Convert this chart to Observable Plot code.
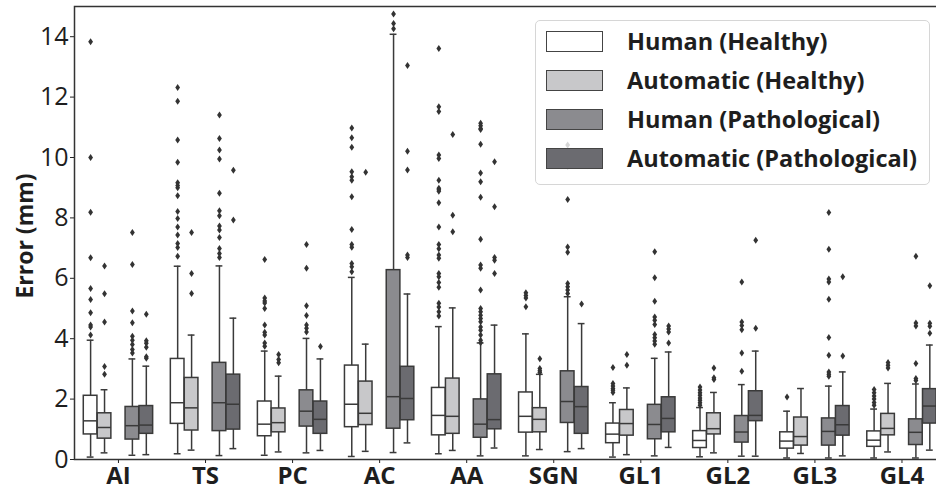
<!DOCTYPE html>
<html>
<head>
<meta charset="utf-8">
<script src="https://cdn.jsdelivr.net/npm/d3@7"></script>
<script src="https://cdn.jsdelivr.net/npm/@observablehq/plot@0.6"></script>
<style>
  html, body { margin: 0; padding: 0; background: #fff; overflow: hidden; }
  #wrap { position: relative; width: 946px; height: 491px; font-family: "Open Sans", sans-serif; }
  #ylabel { position: absolute; left: 24px; top: 236px; transform: translate(-50%, -50%) rotate(-90deg);
    font-size: 23px; font-weight: bold; color: #1e1e1e; white-space: nowrap; }
  #legend { position: absolute; left: 535px; top: 20px; width: 395px; height: 165px;
    background: rgba(255,255,255,0.8); border: 1px solid #d6d6d6; border-radius: 5px; box-sizing: border-box; }
  .row { position: absolute; left: 10px; height: 21px; }
  .sw { position: absolute; left: 0; top: 0; width: 57px; height: 21px; border: 1px solid #444; box-sizing: border-box; }
  .lt { position: absolute; left: 81px; top: 50%; transform: translateY(-52%); font-size: 23.5px; font-weight: bold; color: #1e1e1e; white-space: nowrap; }
</style>
</head>
<body>
<div id="wrap"></div>
<script>
const categories = ["AI", "TS", "PC", "AC", "AA", "SGN", "GL1", "GL2", "GL3", "GL4"];
const seriesNames = ["Human (Healthy)", "Automatic (Healthy)", "Human (Pathological)", "Automatic (Pathological)"];
const seriesFill = ["#ffffff", "#c8c8ca", "#8b8b8f", "#6b6b70"];
const yTicks = [0, 2, 4, 6, 8, 10, 12, 14];

// per category: [lower whisker, Q1, median, Q3, upper whisker]
const humanHealthy = [
  [0.08, 0.83, 1.28, 2.11, 3.95],
  [0.19, 1.18, 1.88, 3.33, 6.40],
  [0.14, 0.77, 1.17, 1.92, 3.59],
  [0.10, 1.07, 1.83, 3.11, 6.03],
  [0.19, 0.80, 1.46, 2.37, 4.40],
  [0.12, 0.89, 1.43, 2.22, 4.16],
  [0.08, 0.54, 0.84, 1.19, 1.88],
  [0.09, 0.38, 0.63, 0.94, 1.72],
  [0.05, 0.36, 0.61, 0.90, 1.60],
  [0.05, 0.42, 0.64, 0.93, 1.67]
];
const automaticHealthy = [
  [0.22, 0.69, 1.06, 1.53, 2.31],
  [0.31, 0.96, 1.71, 2.70, 4.12],
  [0.25, 0.90, 1.22, 1.69, 2.76],
  [0.27, 1.14, 1.53, 2.58, 3.82],
  [0.30, 0.85, 1.43, 2.68, 5.02],
  [0.33, 0.90, 1.33, 1.70, 2.82],
  [0.16, 0.79, 1.19, 1.64, 2.37],
  [0.22, 0.83, 1.02, 1.53, 2.22],
  [0.20, 0.46, 0.76, 1.39, 2.35],
  [0.25, 0.80, 1.03, 1.51, 2.52]
];
const humanPathological = [
  [0.14, 0.66, 1.12, 1.74, 3.33],
  [0.13, 0.94, 1.88, 3.20, 6.41],
  [0.22, 1.09, 1.60, 2.29, 4.01],
  [0.23, 1.02, 2.08, 6.27, 14.08],
  [0.12, 0.72, 1.17, 1.99, 3.86],
  [0.26, 1.21, 1.92, 2.92, 5.39],
  [0.12, 0.67, 1.16, 1.81, 3.35],
  [0.11, 0.56, 0.91, 1.44, 2.48],
  [0.05, 0.46, 0.93, 1.36, 2.43],
  [0.05, 0.48, 0.90, 1.33, 2.50]
];
const automaticPathological = [
  [0.16, 0.85, 1.14, 1.77, 3.09],
  [0.36, 0.99, 1.83, 2.81, 4.68],
  [0.30, 0.85, 1.33, 1.92, 3.33],
  [0.55, 1.30, 2.02, 3.07, 5.48],
  [0.38, 1.00, 1.32, 2.82, 4.45],
  [0.36, 0.85, 1.75, 2.40, 4.50],
  [0.40, 0.90, 1.36, 2.06, 3.56],
  [0.11, 1.27, 1.46, 2.26, 3.59],
  [0.12, 0.79, 1.15, 1.77, 2.90],
  [0.31, 1.19, 1.77, 2.33, 3.79]
];

// outliers per category
const humanHealthyOut = [
  [13.83, 10.0, 8.19, 6.68, 5.66, 5.30, 4.86, 4.45, 4.39, 4.12],
  [12.32, 11.86, 10.58, 9.84, 9.16, 9.07, 9.0, 8.73, 8.21, 7.98, 7.70, 7.43, 7.15, 7.02, 6.73],
  [6.62, 5.35, 5.25, 5.18, 5.0, 4.45, 4.21, 4.12, 3.86, 3.75],
  [10.98, 10.65, 10.34, 9.53, 9.36, 9.25, 8.70, 7.62, 7.12, 7.03, 6.49, 6.38, 6.22],
  [13.61, 11.68, 11.52, 10.08, 9.97, 9.25, 8.98, 8.93, 8.88, 8.50, 7.70, 7.12, 6.98, 6.77, 6.66, 6.16, 6.05, 5.86, 5.70, 5.17, 5.05, 4.89, 4.75],
  [5.52, 5.43, 5.35, 5.06],
  [3.05, 2.52, 2.43, 2.35, 2.29, 2.22],
  [2.40, 2.30, 2.21, 2.13, 2.04, 1.96, 1.88, 1.80],
  [2.07],
  [2.32, 2.21, 2.10, 2.00, 1.89, 1.80]
];
const automaticHealthyOut = [
  [6.41, 5.49, 4.55, 3.08, 2.82],
  [7.52, 6.16, 5.50],
  [3.48, 3.31, 3.20],
  [9.51],
  [10.76, 8.09, 7.54],
  [3.34, 3.01, 2.94, 2.88],
  [3.48, 3.12],
  [3.03, 2.71, 2.65],
  [],
  [3.21, 3.12, 3.03]
];
const humanPathologicalOut = [
  [7.52, 6.46, 4.92, 4.53, 4.08, 3.95, 3.81, 3.64, 3.53],
  [11.41, 10.63, 10.25, 9.95, 8.82, 8.24, 8.07, 7.73, 7.60, 7.35, 6.99, 6.82, 6.69],
  [7.12, 6.33, 5.09, 4.77, 4.45, 4.35, 4.22],
  [14.75, 14.44, 14.26],
  [11.13, 11.05, 10.96, 10.93, 10.44, 9.49, 9.20, 8.68, 7.29, 6.44, 6.33, 5.61, 5.00, 4.89, 4.78, 4.67, 4.56, 4.39, 4.28, 4.12, 3.95, 3.87],
  [10.41, 9.70, 8.61, 7.04, 6.86, 5.83, 5.72, 5.61, 5.50],
  [6.88, 6.02, 5.24, 4.72, 4.61, 4.47, 4.14, 4.03, 3.92, 3.82],
  [5.88, 4.55, 4.44, 4.30, 3.53, 2.92],
  [8.18, 6.96, 5.98, 5.88, 5.31, 4.04, 3.45, 2.90, 2.82, 2.76],
  [6.73, 4.52, 4.42, 3.18, 2.68, 2.62]
];
const automaticPathologicalOut = [
  [4.81, 3.93, 3.85, 3.72, 3.40, 3.35],
  [9.58, 7.93],
  [3.74],
  [13.05, 10.21, 9.59, 6.77, 6.69],
  [9.86, 8.37, 6.69, 6.60, 6.16],
  [5.15],
  [4.42, 4.32, 4.22, 3.86],
  [7.26, 4.35],
  [6.05, 3.43],
  [5.75, 4.51, 4.41, 4.18]
];

const seriesStats = [humanHealthy, automaticHealthy, humanPathological, automaticPathological];
const seriesOut = [humanHealthyOut, automaticHealthyOut, humanPathologicalOut, automaticPathologicalOut];

// layout: 5 hue slots of width 0.16 within each category, middle slot empty
const slotOf = [0, 1, 3, 4];
const slotW = 0.16;
const center = (ci, si) => ci - 0.4 + slotOf[si] * slotW + slotW / 2;
const halfBox = slotW * 0.98 / 2;
const halfCap = halfBox / 2;

const boxes = [];
seriesStats.forEach((rows, si) => rows.forEach((r, ci) => {
  boxes.push({series: seriesNames[si], xc: center(ci, si), low: r[0], q1: r[1], med: r[2], q3: r[3], high: r[4]});
}));
const outliers = [];
seriesOut.forEach((rows, si) => rows.forEach((vals, ci) => vals.forEach(v => {
  outliers.push({xc: center(ci, si), value: v});
})));

const thinDiamond = {
  draw(ctx) {
    ctx.moveTo(0, -3.5); ctx.lineTo(2.4, 0); ctx.lineTo(0, 3.5); ctx.lineTo(-2.4, 0); ctx.closePath();
  }
};

const lineColor = "#3a3a3a";

const chart = Plot.plot({
  width: 946,
  height: 491,
  marginLeft: 74,
  marginRight: 1,
  marginTop: 6,
  marginBottom: 32,
  style: {fontFamily: "'Open Sans', sans-serif", maxWidth: "none", color: "#1e1e1e", background: "transparent"},
  x: {type: "linear", domain: [-0.505, 9.5]},
  y: {domain: [0, 15]},
  color: {domain: seriesNames, range: seriesFill},
  marks: [
    Plot.ruleX(boxes, {x: "xc", y1: "low", y2: "high", stroke: lineColor, strokeWidth: 1.5}),
    Plot.ruleY(boxes, {x1: d => d.xc - halfCap, x2: d => d.xc + halfCap, y: "low", stroke: lineColor, strokeWidth: 1.5}),
    Plot.ruleY(boxes, {x1: d => d.xc - halfCap, x2: d => d.xc + halfCap, y: "high", stroke: lineColor, strokeWidth: 1.5}),
    Plot.rect(boxes, {x1: d => d.xc - halfBox, x2: d => d.xc + halfBox, y1: "q1", y2: "q3", fill: "series", stroke: lineColor, strokeWidth: 1.5}),
    Plot.ruleY(boxes, {x1: d => d.xc - halfBox, x2: d => d.xc + halfBox, y: "med", stroke: lineColor, strokeWidth: 1.5}),
    Plot.dot(outliers, {x: "xc", y: "value", symbol: thinDiamond, fill: "#333", stroke: null}),
    Plot.axisY({ticks: yTicks, tickSize: 4, tickPadding: 2, fontSize: 25, label: null, stroke: "#222"}),
    Plot.axisX({ticks: d3.range(categories.length), tickFormat: i => categories[i], tickSize: 4, tickPadding: 3,
      fontSize: 24, fontWeight: "bold", label: null, stroke: "#222"}),
    Plot.frame({stroke: "#333", strokeWidth: 1.5})
  ]
});

const wrap = document.getElementById("wrap");
wrap.appendChild(chart);

const yl = document.createElement("div");
yl.id = "ylabel";
yl.textContent = "Error (mm)";
wrap.appendChild(yl);

const legend = document.createElement("div");
legend.id = "legend";
seriesNames.forEach((name, i) => {
  const row = document.createElement("div");
  row.className = "row";
  row.style.top = (10 + i * 39) + "px";
  const sw = document.createElement("div");
  sw.className = "sw";
  sw.style.background = seriesFill[i];
  const t = document.createElement("div");
  t.className = "lt";
  t.textContent = name;
  row.appendChild(sw);
  row.appendChild(t);
  legend.appendChild(row);
});
wrap.appendChild(legend);
</script>
</body>
</html>
